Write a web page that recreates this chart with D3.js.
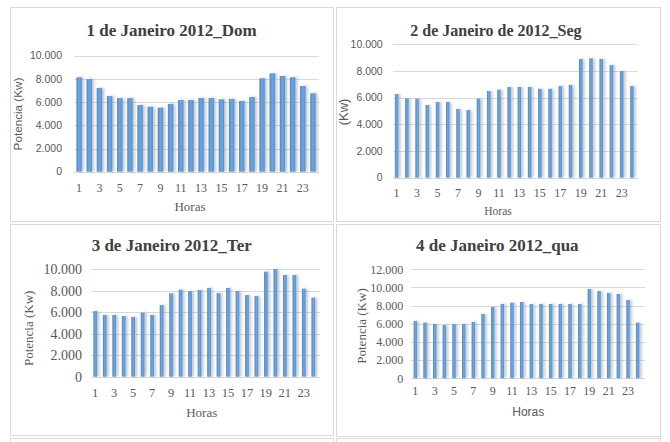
<!DOCTYPE html>
<html><head><meta charset="utf-8">
<script src="https://cdn.jsdelivr.net/npm/d3@7"></script>
<style>
html,body{margin:0;padding:0;background:#fff;}
svg{display:block;}
</style></head>
<body><div id="chart"></div>
<script>
// ---- data ----
const hours = [1,2,3,4,5,6,7,8,9,10,11,12,13,14,15,16,17,18,19,20,21,22,23,24];
const xTickLabels = [1,3,5,7,9,11,13,15,17,19,21,23];
const titles = ["1 de Janeiro 2012_Dom","2 de Janeiro de 2012_Seg","3 de Janeiro 2012_Ter","4 de Janeiro 2012_qua"];
const yTitles = ["Potencia (Kw)","(Kw)","Potencia (Kw)","Potencia (Kw)"];
const xTitle = "Horas";
const dom = [8140,7990,7220,6520,6350,6350,5750,5600,5520,5840,6180,6180,6350,6350,6240,6270,6100,6440,8050,8480,8250,8140,7390,6760];
const seg = [6270,5950,5920,5450,5675,5675,5150,5075,5920,6500,6600,6800,6800,6800,6660,6660,6870,6950,8900,8950,8900,8450,8000,6870];
const ter = [6110,5745,5745,5650,5560,5960,5745,6675,7765,8100,7980,8070,8260,7790,8260,7980,7600,7510,9780,10030,9470,9470,8195,7360];
const qua = [6310,6125,5980,5870,5980,5980,6200,7080,7850,8180,8330,8400,8180,8180,8180,8180,8180,8180,9830,9610,9390,9280,8620,6125];
const yTicks10 = [0,2000,4000,6000,8000,10000];
const yTicks12 = [0,2000,4000,6000,8000,10000,12000];

// ---- layout ----
const W = 670, H = 442;
const SERIF = "'Liberation Serif','Times New Roman',serif";
const SANS = "'Liberation Sans',Arial,sans-serif";
const loc = d3.formatLocale({decimal:",", thousands:".", grouping:[3], currency:["",""]});
const fmt = loc.format(",d");

const panels = [
  {values: dom, ticks: yTicks10, ymax:10000, box:[10,7,333,221],
   xr:[74,318], yr:[171.7,55.7], gx:[74,319], barFrac:0.53,
   yTickX:62, yTickFont:SANS, yTickSize:10.5,
   xTickY:188, xTickFont:SERIF, xTickSize:12,
   xTitlePos:[190,206], xTitleFont:SERIF, xTitleSize:13,
   yTitlePos:[18,114], yTitleFont:SANS, yTitleSize:11.7,
   titlePos:[171.7,30.5], titleSize:17},
  {values: seg, ticks: yTicks10, ymax:10000, box:[336,7,660,221],
   xr:[391.5,637], yr:[177.7,44.3], gx:[393,638], barFrac:0.34,
   yTickX:382.7, yTickFont:SANS, yTickSize:10.5,
   xTickY:192.7, xTickFont:SERIF, xTickSize:12,
   xTitlePos:[498,210.7], xTitleFont:SERIF, xTitleSize:11.5,
   yTitlePos:[343,112], yTitleFont:SANS, yTitleSize:13,
   titlePos:[496,30], titleSize:16},
  {values: ter, ticks: yTicks10, ymax:10000, box:[10,224,333,435],
   xr:[90.5,318], yr:[376.7,269.3], gx:[91,320], barFrac:0.39,
   yTickX:82, yTickFont:SERIF, yTickSize:14,
   xTickY:392.7, xTickFont:SERIF, xTickSize:12.5,
   xTitlePos:[201.7,412.7], xTitleFont:SERIF, xTitleSize:13,
   yTitlePos:[28,328.3], yTitleFont:SERIF, yTitleSize:13,
   titlePos:[171.7,245], titleSize:17},
  {values: qua, ticks: yTicks12, ymax:12000, box:[336,224,660,436],
   xr:[410.5,642.5], yr:[378.3,269.3], gx:[411,645], barFrac:0.35,
   yTickX:403.3, yTickFont:SERIF, yTickSize:12,
   xTickY:390.3, xTickFont:SERIF, xTickSize:12,
   xTitlePos:[528.3,411.7], xTitleFont:SANS, xTitleSize:12,
   yTitlePos:[361,326], yTitleFont:SERIF, yTitleSize:13,
   titlePos:[497.3,245], titleSize:17}
];

const svg = d3.select("#chart").append("svg").attr("width",W).attr("height",H);
const defs = svg.append("defs");
const grad = defs.append("linearGradient").attr("id","barGrad").attr("x1","0").attr("x2","1").attr("y1","0").attr("y2","0");
grad.append("stop").attr("offset","0").attr("stop-color","#4a87c9");
grad.append("stop").attr("offset","0.5").attr("stop-color","#6ea8df");
grad.append("stop").attr("offset","1").attr("stop-color","#558fcf");
const filt = defs.append("filter").attr("id","shadow").attr("x","-100%").attr("y","-10%").attr("width","300%").attr("height","120%");
filt.append("feDropShadow").attr("dx",2).attr("dy",0).attr("stdDeviation",1.8).attr("flood-color","#8c8c8c").attr("flood-opacity",0.55);

// lower row partial boxes (cut by image bottom)
[[10,438,333,460],[336,438,660,460]].forEach(b=>{
  svg.append("rect").attr("x",b[0]+0.5).attr("y",b[1]+0.5).attr("width",b[2]-b[0]).attr("height",b[3]-b[1])
    .attr("fill","none").attr("stroke","#d9d9d9").attr("stroke-width",1);
});

panels.forEach((p,i)=>{
  const g = svg.append("g");
  const b = p.box;
  g.append("rect").attr("x",b[0]+0.5).attr("y",b[1]+0.5).attr("width",b[2]-b[0]).attr("height",b[3]-b[1])
    .attr("fill","#fff").attr("stroke","#d9d9d9").attr("stroke-width",1);

  const x = d3.scaleBand().domain(hours).range(p.xr).padding(0);
  const y = d3.scaleLinear().domain([0,p.ymax]).range(p.yr);

  // gridlines
  g.selectAll(".grid").data(p.ticks).join("line")
    .attr("x1",p.gx[0]).attr("x2",p.gx[1])
    .attr("y1",d=>Math.round(y(d))+0.5).attr("y2",d=>Math.round(y(d))+0.5)
    .attr("stroke","#d9d9d9").attr("stroke-width",1);

  // y tick labels
  g.selectAll(".yt").data(p.ticks).join("text")
    .attr("x",p.yTickX).attr("y",d=>y(d)).attr("dy","0.35em")
    .attr("text-anchor","end").attr("font-family",p.yTickFont).attr("font-size",p.yTickSize)
    .attr("fill","#595959").text(d=>fmt(d));

  // bars
  const bw = x.bandwidth()*p.barFrac;
  g.append("g").attr("filter","url(#shadow)").selectAll("rect").data(p.values).join("rect")
    .attr("x",(d,j)=>x(hours[j])+x.bandwidth()/2-bw/2)
    .attr("width",bw)
    .attr("y",d=>y(d))
    .attr("height",d=>y(0)-y(d))
    .attr("fill","url(#barGrad)");

  // x tick labels
  g.selectAll(".xt").data(xTickLabels).join("text")
    .attr("x",d=>x(d)+x.bandwidth()/2).attr("y",p.xTickY).attr("dy","0.35em")
    .attr("text-anchor","middle").attr("font-family",p.xTickFont).attr("font-size",p.xTickSize)
    .attr("fill","#595959").text(d=>d);

  // axis titles
  g.append("text").attr("x",p.xTitlePos[0]).attr("y",p.xTitlePos[1]).attr("dy","0.35em")
    .attr("text-anchor","middle").attr("font-family",p.xTitleFont).attr("font-size",p.xTitleSize)
    .attr("fill","#595959").text(xTitle);
  g.append("text").attr("transform",`translate(${p.yTitlePos[0]},${p.yTitlePos[1]}) rotate(-90)`)
    .attr("dy","0.35em").attr("text-anchor","middle").attr("font-family",p.yTitleFont).attr("font-size",p.yTitleSize)
    .attr("fill","#595959").text(yTitles[i]);

  // chart title
  g.append("text").attr("x",p.titlePos[0]).attr("y",p.titlePos[1]).attr("dy","0.35em")
    .attr("text-anchor","middle").attr("font-family",SERIF).attr("font-weight","bold").attr("font-size",p.titleSize)
    .attr("fill","#404040").text(titles[i]);
});
</script>
</body></html>
